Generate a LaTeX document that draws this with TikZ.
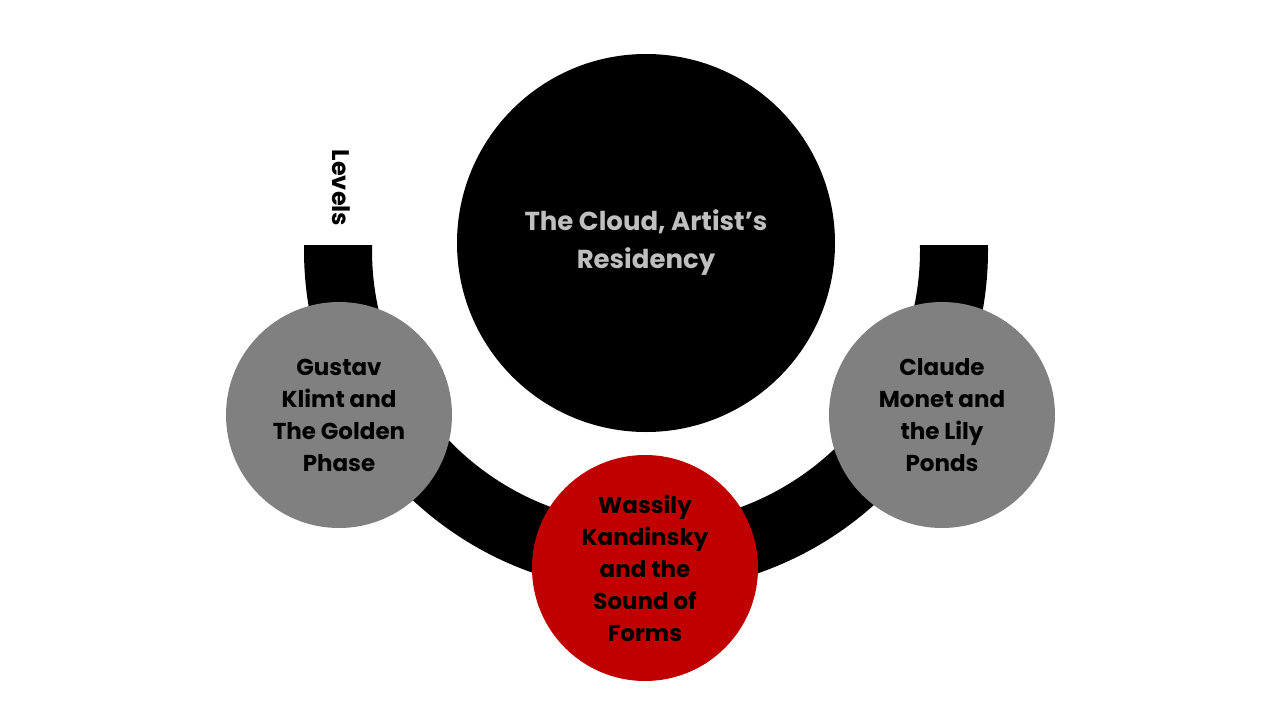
\documentclass[tikz,border=0pt]{standalone}
\usepackage{fontspec}
\setmainfont{Poppins}
\definecolor{bubblegrey}{HTML}{808080}
\definecolor{bubblered}{HTML}{C00000}
\definecolor{titlegrey}{HTML}{BFBFBF}
\begin{document}
\begin{tikzpicture}[x=1pt,y=-1pt,
    bubble/.style={circle,minimum size=226pt,inner sep=0pt,align=center,
      font=\bfseries\fontsize{23}{32}\selectfont}]
  \useasboundingbox (0,0) rectangle (1280,720);
  % band behind the bubbles
  \begin{scope}
    \clip (0,245) rectangle (1280,720);
    \draw[line width=68pt] (646,250) circle[radius=308pt];
  \end{scope}
  \node[bubble,fill=black,text=titlegrey,minimum size=378pt,
    font=\bfseries\fontsize{26}{38}\selectfont] (cloud) at (646,243) {The Cloud, Artist’s\\Residency};
  \node[bubble,fill=bubblegrey] (klimt) at (339,415) {Gustav\\Klimt and\\The Golden\\Phase};
  \node[bubble,fill=bubblegrey] (monet) at (942,415) {Claude\\Monet and\\the Lily\\Ponds};
  \node[bubble,fill=bubblered] (kandinsky) at (645,568) {Wassily\\Kandinsky\\and the\\Sound of\\Forms};
  \node[rotate=-90,font=\bfseries\fontsize{24}{26}\selectfont] (levels) at (341,188) {Levels};
\end{tikzpicture}
\end{document}
